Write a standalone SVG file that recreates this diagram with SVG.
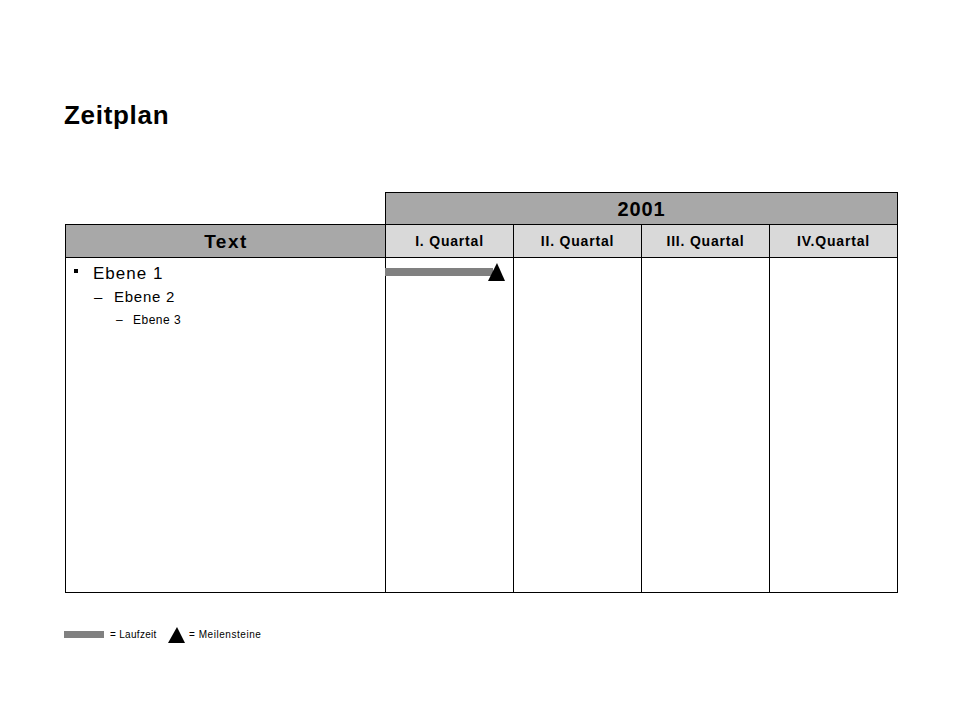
<svg xmlns="http://www.w3.org/2000/svg" width="960" height="720" viewBox="0 0 960 720">
<style>
text{font-family:"Liberation Sans",Arial,sans-serif;fill:#000}
.b{font-weight:bold}
.hd{fill:#a8a8a8;stroke:#000;stroke-width:1}
.qh{fill:#d9d9d9;stroke:#000;stroke-width:1}
.cell{fill:#fff;stroke:#000;stroke-width:1}
.bar{fill:#808080}
.q{font-size:14px;font-weight:bold;letter-spacing:0.8px}
</style>
<rect width="960" height="720" fill="#fff"/>
<text x="64" y="124" class="b" font-size="26" letter-spacing="0.7">Zeitplan</text>
<g id="year">
<rect class="hd" x="385.5" y="192.5" width="512" height="32"/>
<text x="641.5" y="216" class="b" font-size="20" letter-spacing="0.9" text-anchor="middle">2001</text>
</g>
<g id="text-header">
<rect class="hd" x="65.5" y="224.5" width="320" height="33"/>
<text x="226" y="248" class="b" font-size="19" letter-spacing="1.5" text-anchor="middle">Text</text>
</g>
<g id="q1">
<rect class="qh" x="385.5" y="224.5" width="128" height="33"/>
<text x="449.5" y="246" class="q" text-anchor="middle">I. Quartal</text>
<rect class="cell" x="385.5" y="257.5" width="128" height="335"/>
</g>
<g id="q2">
<rect class="qh" x="513.5" y="224.5" width="128" height="33"/>
<text x="577.5" y="246" class="q" text-anchor="middle">II. Quartal</text>
<rect class="cell" x="513.5" y="257.5" width="128" height="335"/>
</g>
<g id="q3">
<rect class="qh" x="641.5" y="224.5" width="128" height="33"/>
<text x="705.5" y="246" class="q" text-anchor="middle">III. Quartal</text>
<rect class="cell" x="641.5" y="257.5" width="128" height="335"/>
</g>
<g id="q4">
<rect class="qh" x="769.5" y="224.5" width="128" height="33"/>
<text x="833.5" y="246" class="q" text-anchor="middle">IV.Quartal</text>
<rect class="cell" x="769.5" y="257.5" width="128" height="335"/>
</g>
<g id="text-body">
<rect class="cell" x="65.5" y="257.5" width="320" height="335"/>
<rect x="74" y="269" width="4" height="4" fill="#000"/>
<text x="93" y="279" font-size="17" letter-spacing="1">Ebene 1</text>
<text x="94" y="302" font-size="15">–</text>
<text x="114" y="302" font-size="15" letter-spacing="0.75">Ebene 2</text>
<text x="116" y="324" font-size="12">–</text>
<text x="133" y="324" font-size="12" letter-spacing="0.5">Ebene 3</text>
</g>
<g id="connectors">
<rect class="bar" x="385" y="268" width="108" height="8"/>
<polygon points="488,281 497,263 505,281" fill="#000"/>
</g>
<g id="legend">
<rect class="bar" x="64" y="631" width="40" height="7"/>
<text x="110" y="638" font-size="10" letter-spacing="0.3">= Laufzeit</text>
<polygon points="168,643 177,627 185,643" fill="#000"/>
<text x="189" y="638" font-size="10" letter-spacing="0.55">= Meilensteine</text>
</g>
</svg>
